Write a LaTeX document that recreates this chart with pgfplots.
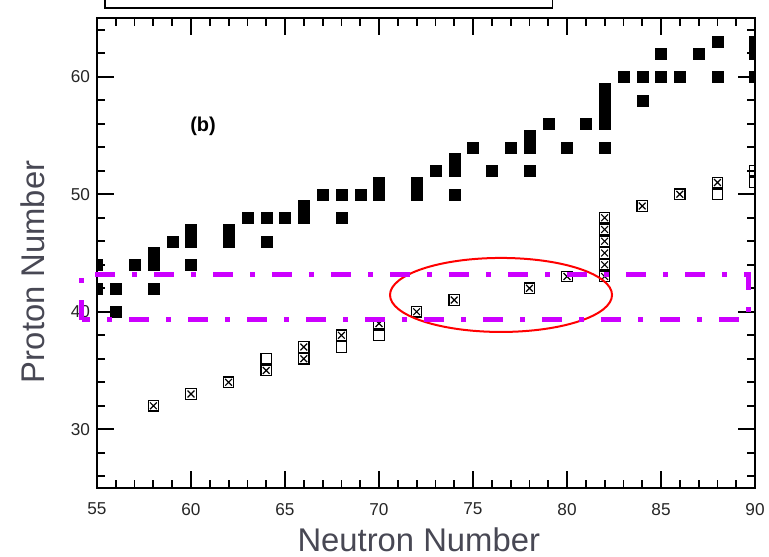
\documentclass[border=0pt]{standalone}
\usepackage{pgfplots}
\pgfplotsset{compat=1.18}
\usepackage{fontspec}
\setmainfont{Liberation Sans}
\definecolor{labelgray}{RGB}{72,72,84}
\definecolor{violetmag}{RGB}{204,0,255}
\pgfdeclareplotmark{boxx}{%
  \pgfpathrectangle{\pgfpoint{-\pgfplotmarksize}{-\pgfplotmarksize}}{\pgfpoint{2\pgfplotmarksize}{2\pgfplotmarksize}}%
  \pgfusepathqfillstroke
  \pgfpathmoveto{\pgfpoint{-0.65\pgfplotmarksize}{-0.65\pgfplotmarksize}}%
  \pgfpathlineto{\pgfpoint{0.65\pgfplotmarksize}{0.65\pgfplotmarksize}}%
  \pgfpathmoveto{\pgfpoint{-0.65\pgfplotmarksize}{0.65\pgfplotmarksize}}%
  \pgfpathlineto{\pgfpoint{0.65\pgfplotmarksize}{-0.65\pgfplotmarksize}}%
  \pgfusepathqstroke
}
\begin{document}
\begin{tikzpicture}
\path[use as bounding box] (-48.5pt,-34pt) rectangle (336pt,244pt);
\begin{axis}[
  scale only axis, width=329pt, height=235pt,
  xmin=55, xmax=90, ymin=25, ymax=65,
  xtick={55,60,...,90}, ytick={30,40,50,60},
  minor xtick={56,57,58,59,61,62,63,64,66,67,68,69,71,72,73,74,76,77,78,79,81,82,83,84,86,87,88,89},
  minor ytick={26,28,32,34,36,38,42,44,46,48,52,54,56,58,62,64},
  tick align=inside,
  major tick length=8.5pt, minor tick length=4pt,
  axis line style={line width=1pt},
  every major tick/.append style={line width=1pt, draw=black},
  every minor tick/.append style={line width=0.9pt, draw=black},
  every tick label/.append style={font=\fontsize{8.6}{10}\selectfont, text=black!85},
  /pgf/number format/assume math mode=true,
  xticklabel style={yshift=-4pt},
  xlabel={Neutron Number}, ylabel={Proton Number},
  every axis label/.append style={font=\fontsize{16.4}{19}\selectfont, text=labelgray},
  xlabel style={at={(axis description cs:0.489,-0.1106)}, anchor=center},
  ylabel style={at={(axis description cs:-0.0973,0.46)}, anchor=center},
  clip marker paths=true,
]
% filled squares
\addplot[only marks, mark=square*, mark size=2.75pt, mark options={fill=black, draw=black, line width=0.1pt}] coordinates {
(55,44) (55,42) (56,42) (56,40) (57,44) (58,45) (58,44) (58,42) (59,46)
(60,47) (60,46) (60,44) (62,47) (62,46) (63,48) (64,48) (64,46) (65,48)
(66,49) (66,48) (67,50) (68,50) (68,48) (69,50) (70,51) (70,50) (72,51) (72,50)
(73,52) (74,53) (74,52) (74,50) (75,54) (76,52) (77,54) (78,55) (78,54) (78,52)
(79,56) (80,54) (81,56) (82,59) (82,58) (82,57) (82,56) (82,54) (83,60)
(84,60) (84,58) (85,62) (85,60) (86,60) (87,62) (88,63) (88,60) (90,63) (90,62) (90,60)
};
% open squares
\addplot[only marks, mark=square, mark size=2.6pt, mark options={fill=white, draw=black, line width=0.6pt}] coordinates {
(64,36) (68,37) (70,38) (88,50) (90,51) (90,52)
};
% crossed squares
\addplot[only marks, mark=boxx, mark size=2.6pt, mark options={fill=white, draw=black, line width=0.6pt}] coordinates {
(58,32) (60,33) (62,34) (64,35) (66,36) (66,37) (68,38) (70,39) (72,40) (74,41)
(78,42) (80,43) (82,43) (82,44) (82,45) (82,46) (82,47) (82,48) (84,49) (86,50) (88,51)
};
\node at (axis cs:60.64,55.8) {\fontsize{10}{12}\selectfont\bfseries (b)};
\coordinate (rA) at (axis cs:54.2,39.3);
\coordinate (rB) at (axis cs:89.63,43.21);
\coordinate (eC) at (axis cs:76.49,41.43);
\coordinate (bA) at (axis cs:55.43,65.85);
\coordinate (bB) at (axis cs:79.22,70);
\end{axis}
\draw[line width=0.75pt] (bA) rectangle (bB);
\draw[red, line width=1pt] (eC) ellipse [x radius=55.5pt, y radius=18.5pt];
\draw[violetmag, line width=2.5pt, dash pattern=on 10pt off 8.5pt on 2.5pt off 8.5pt] (rA) rectangle (rB);
\end{tikzpicture}
\end{document}
